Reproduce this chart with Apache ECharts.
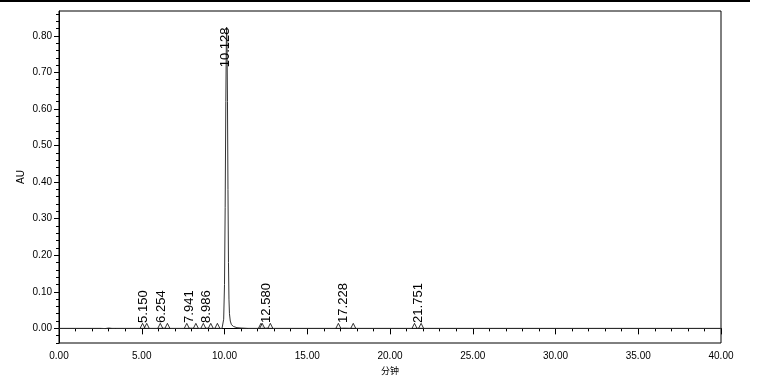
<!DOCTYPE html>
<html>
<head>
<meta charset="utf-8">
<script src="https://cdn.jsdelivr.net/npm/echarts@6/dist/echarts.min.js"></script>
<style>
html,body{margin:0;padding:0;background:#fff;}
#c{width:761px;height:386px;}
</style>
</head>
<body>
<div id="c"></div>
<script>
// chromatogram trace (minutes, AU)
const traceTime = [0, 2.5, 2.6, 2.8, 3.0, 3.2, 3.4, 5.0, 5.15, 5.3, 6.1, 6.254, 6.5, 7.7, 7.941, 8.3, 8.7, 8.986, 9.2, 9.6,
  9.85, 9.90, 9.95, 10.00, 10.04, 10.08, 10.11, 10.128, 10.15, 10.18, 10.21, 10.24, 10.27, 10.30, 10.35, 10.42, 10.55, 10.75, 11.00, 11.40,
  12.2, 12.58, 12.8, 16.9, 17.228, 17.8, 21.5, 21.751, 21.9, 30, 40];
const traceAU = [0, 0, 0.001, -0.0005, 0.001, 0, 0, 0, 0.0008, 0, 0, 0.0006, 0, 0, 0.0007, 0, 0, 0.0008, 0, 0,
  0.000, 0.004, 0.025, 0.12, 0.33, 0.62, 0.78, 0.824, 0.79, 0.62, 0.38, 0.18, 0.08, 0.040, 0.020, 0.010, 0.005, 0.002, 0.001, 0.000,
  0, 0.0008, 0, 0, 0.0006, 0, 0, 0.0006, 0, 0, 0];

// labelled peaks
const peakRT = [5.150, 6.254, 7.941, 8.986, 10.128, 12.580, 17.228, 21.751];
const peakHeight = [0.0008, 0.0006, 0.0007, 0.0008, 0.824, 0.0008, 0.0006, 0.0006];

// integration start/end markers (minutes)
const markerTimes = [5.05, 5.30, 6.12, 6.55, 7.72, 8.27, 8.72, 9.17, 9.57, 12.20, 12.28, 12.77, 16.88, 17.78, 21.48, 21.88];

// axis ticks
const xTicks = [0, 5, 10, 15, 20, 25, 30, 35, 40];
const yMajor = [0.0, 0.1, 0.2, 0.3, 0.4, 0.5, 0.6, 0.7, 0.8];
const yMinor = [-0.04, -0.02, 0.02, 0.04, 0.06, 0.08, 0.12, 0.14, 0.16, 0.18, 0.22, 0.24, 0.26, 0.28,
  0.32, 0.34, 0.36, 0.38, 0.42, 0.44, 0.46, 0.48, 0.52, 0.54, 0.56, 0.58, 0.62, 0.64, 0.66, 0.68,
  0.72, 0.74, 0.76, 0.78, 0.82, 0.84, 0.86];

const FONT = '"Liberation Sans", Arial, sans-serif';
const chart = echarts.init(document.getElementById('c'), null, {renderer: 'canvas'});

chart.setOption({
  animation: false,
  backgroundColor: '#fff',
  graphic: [{
    type: 'line', shape: {x1: 0, y1: 1, x2: 750, y2: 1},
    style: {stroke: '#000', lineWidth: 2}
  }],
  grid: {left: 59, right: 40, top: 11, bottom: 43, show: true, borderColor: '#000', borderWidth: 1},
  xAxis: {
    type: 'value', min: 0, max: 40, interval: 5,
    name: '分钟', nameLocation: 'middle', nameGap: 22,
    nameTextStyle: {fontFamily: '"Noto Sans CJK SC", sans-serif', fontSize: 9, color: '#000'},
    axisLine: {show: true, lineStyle: {color: '#000', width: 1}},
    axisTick: {show: true, inside: false, length: 6, lineStyle: {color: '#000'}},
    minorTick: {show: true, splitNumber: 5, length: 3, lineStyle: {color: '#000'}},
    splitLine: {show: false},
    minorSplitLine: {show: false},
    axisLabel: {margin: 8, fontFamily: FONT, fontSize: 10, color: '#000',
      formatter: v => v.toFixed(2)}
  },
  yAxis: [{
    type: 'value', min: -0.04, max: 0.868,
    name: 'AU', nameLocation: 'middle', nameGap: 33, nameMoveOverlap: false,
    nameTextStyle: {fontFamily: FONT, fontSize: 10, color: '#000'},
    axisLine: {show: true, lineStyle: {color: '#000', width: 1}},
    axisTick: {show: true, inside: false, length: 5, customValues: yMajor, lineStyle: {color: '#000'}},
    axisLabel: {margin: 7, fontFamily: FONT, fontSize: 10, color: '#000', customValues: yMajor,
      formatter: v => v.toFixed(2)},
    splitLine: {show: false}
  }, {
    type: 'value', min: -0.04, max: 0.868, position: 'left', offset: 0,
    axisLine: {show: false},
    axisTick: {show: true, inside: false, length: 3, customValues: yMinor, lineStyle: {color: '#000'}},
    axisLabel: {show: false, customValues: yMinor},
    splitLine: {show: false}
  }],
  series: [{
    type: 'line',
    data: traceTime.map((t, i) => [t, traceAU[i]]),
    showSymbol: false,
    lineStyle: {color: '#333', width: 1},
    silent: true,
    z: 2
  }, {
    type: 'scatter',
    data: markerTimes.map(t => [t, 0]),
    symbol: 'triangle',
    symbolSize: [5, 5],
    symbolOffset: [0, -2.5],
    itemStyle: {color: '#fff', borderColor: '#000', borderWidth: 1},
    silent: true,
    z: 3
  }, {
    type: 'custom',
    data: peakRT.map((t, i) => [t, peakHeight[i]]),
    encode: {x: 0, y: 1},
    silent: true,
    z: 4,
    renderItem: function (params, api) {
      const rt = api.value(0), h = api.value(1);
      const p = api.coord([rt, h > 0.1 ? h - 0.11 : 0.015]);
      return {
        type: 'text',
        x: p[0] - 1, y: p[1],
        rotation: Math.PI / 2,
        style: {
          text: rt.toFixed(3),
          align: 'left', verticalAlign: 'middle',
          textAlign: 'left', textVerticalAlign: 'middle',
          fontFamily: FONT, fontSize: 13, fill: '#000'
        }
      };
    }
  }]
});
</script>
</body>
</html>
